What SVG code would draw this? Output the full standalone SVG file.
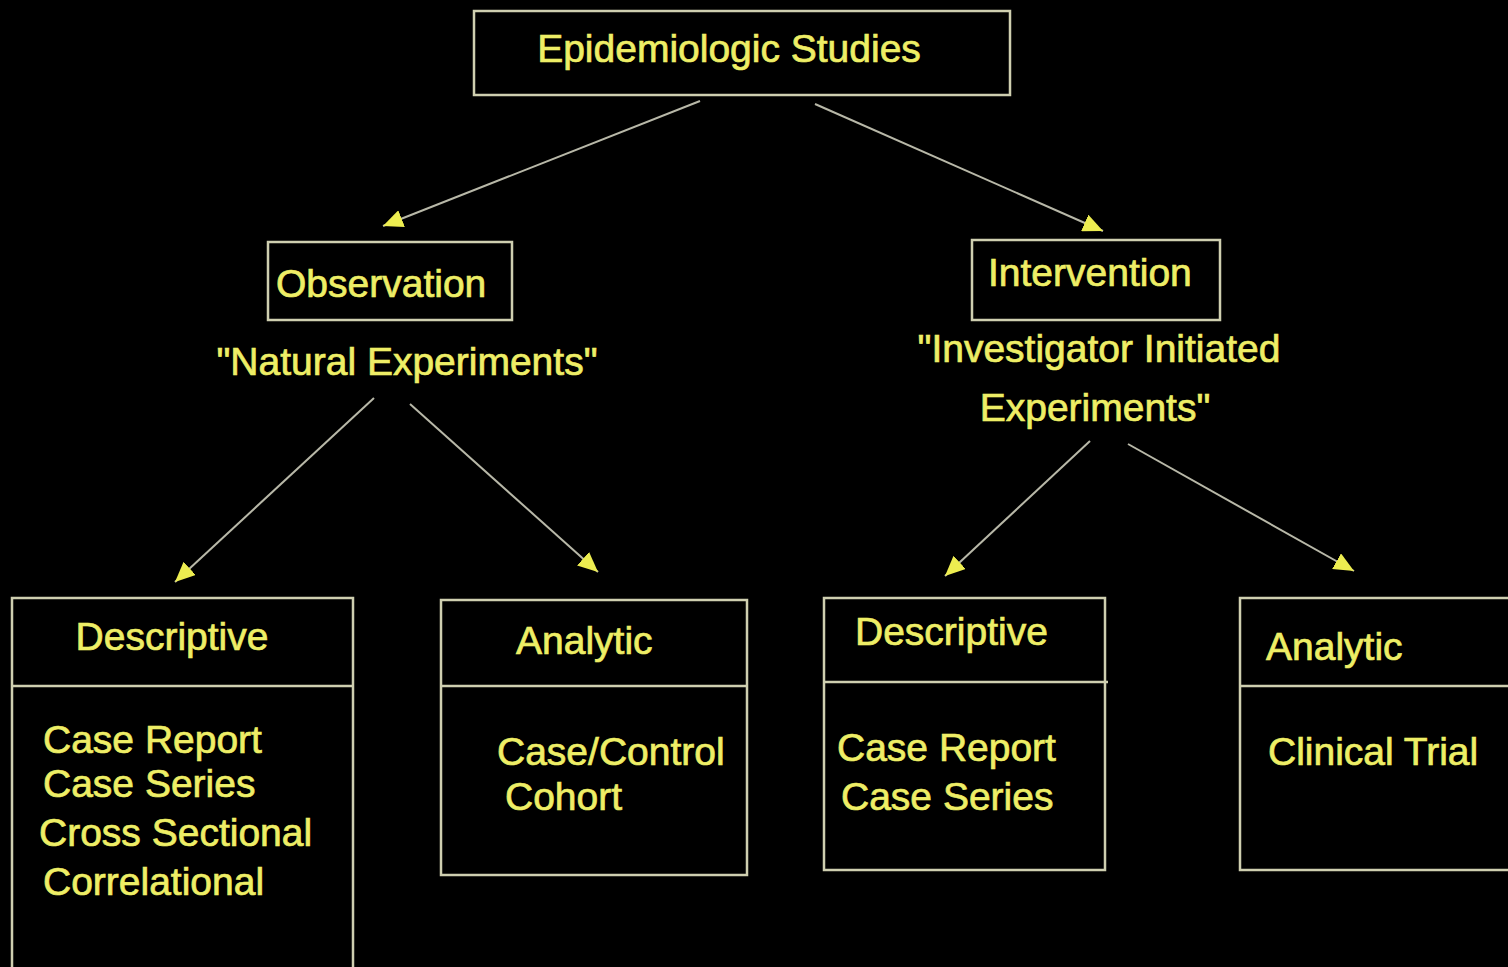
<svg xmlns="http://www.w3.org/2000/svg" width="1508" height="967" viewBox="0 0 1508 967">
<defs>
<style>
.box{fill:none;stroke:#cfcfb0;stroke-width:2.5}
.div{stroke:#cfcfb0;stroke-width:2.5}
.t{font-family:"Liberation Sans",Arial,sans-serif;font-size:39px;fill:#eeee66;stroke:#eeee66;stroke-width:0.7}
.c{stroke:#b8b8a8;stroke-width:2;fill:none;marker-end:url(#ah)}
</style>
<marker id="ah" markerUnits="userSpaceOnUse" markerWidth="22" markerHeight="18" refX="20" refY="9" orient="auto">
<path d="M0,0 L20,9 L0,18 Z" fill="#eded50"/>
</marker>
</defs>
<rect x="0" y="0" width="1508" height="967" fill="#000"/>
<g id="connectors">
<line class="c" x1="700" y1="101" x2="383" y2="226"/>
<line class="c" x1="815" y1="104" x2="1103" y2="231"/>
<line class="c" x1="374" y1="398" x2="175" y2="582"/>
<line class="c" x1="410" y1="404" x2="598" y2="572"/>
<line class="c" x1="1090" y1="441" x2="945" y2="576"/>
<line class="c" x1="1128" y1="444" x2="1354" y2="571"/>
</g>
<g id="epidemiologic">
<rect class="box" x="474" y="11" width="536" height="84"/>
<text class="t" x="729" y="62" text-anchor="middle">Epidemiologic Studies</text>
</g>
<g id="observation">
<rect class="box" x="268" y="242" width="244" height="78"/>
<text class="t" x="276" y="297">Observation</text>
<text class="t" x="407" y="375" text-anchor="middle">"Natural Experiments"</text>
</g>
<g id="intervention">
<rect class="box" x="972" y="240" width="248" height="80"/>
<text class="t" x="988" y="286">Intervention</text>
<text class="t" x="1099" y="362" text-anchor="middle">"Investigator Initiated</text>
<text class="t" x="1095" y="421" text-anchor="middle">Experiments"</text>
</g>
<g id="obs-descriptive">
<rect class="box" x="12" y="598" width="341" height="380"/>
<line class="div" x1="12" y1="686" x2="353" y2="686"/>
<text class="t" x="172" y="650" text-anchor="middle">Descriptive</text>
<text class="t" x="43" y="753">Case Report</text>
<text class="t" x="43" y="797">Case Series</text>
<text class="t" x="39" y="846">Cross Sectional</text>
<text class="t" x="43" y="895">Correlational</text>
</g>
<g id="obs-analytic">
<rect class="box" x="441" y="600" width="306" height="275"/>
<line class="div" x1="441" y1="686" x2="747" y2="686"/>
<text class="t" x="516" y="654">Analytic</text>
<text class="t" x="497" y="765">Case/Control</text>
<text class="t" x="505" y="810">Cohort</text>
</g>
<g id="int-descriptive">
<rect class="box" x="824" y="598" width="281" height="272"/>
<line class="div" x1="824" y1="682" x2="1108" y2="682"/>
<text class="t" x="855" y="645">Descriptive</text>
<text class="t" x="837" y="761">Case Report</text>
<text class="t" x="841" y="810">Case Series</text>
</g>
<g id="int-analytic">
<rect class="box" x="1240" y="598" width="290" height="272"/>
<line class="div" x1="1240" y1="686" x2="1508" y2="686"/>
<text class="t" x="1266" y="660">Analytic</text>
<text class="t" x="1268" y="765">Clinical Trial</text>
</g>
</svg>
